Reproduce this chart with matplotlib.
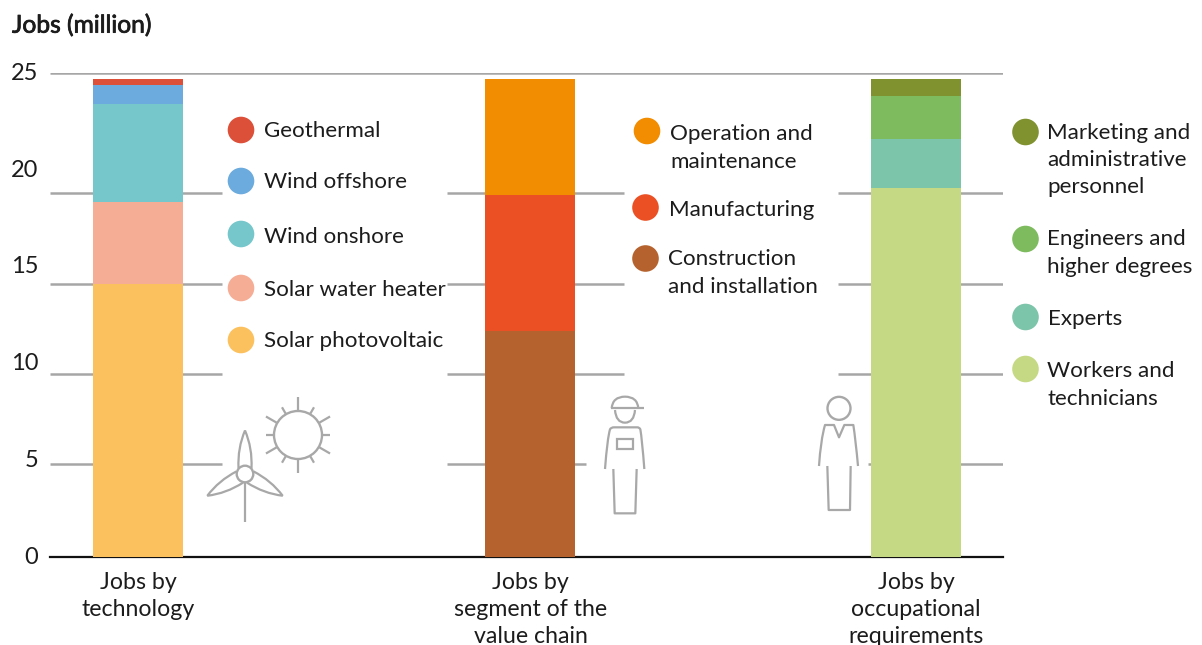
import numpy as np
import matplotlib
matplotlib.use("Agg")
import matplotlib.pyplot as plt
import matplotlib.patheffects as pe
from matplotlib.patches import Circle, PathPatch, Rectangle
from matplotlib.path import Path
from matplotlib.transforms import ScaledTranslation

plt.rcParams['font.family'] = ['Lato', 'DejaVu Sans']

# ---- data ----
group_labels = ["Jobs by\ntechnology", "Jobs by\nsegment of the\nvalue chain", "Jobs by\noccupational\nrequirements"]
tech_names = ["Solar photovoltaic", "Solar water heater", "Wind onshore", "Wind offshore", "Geothermal"]
tech_values = [14.1, 4.25, 5.05, 1.0, 0.3]
tech_colors = ["#fcc15f", "#f6ad96", "#76c7cb", "#6cabdd", "#dc5039"]
chain_names = ["Construction\nand installation", "Manufacturing", "Operation and\nmaintenance"]
chain_values = [11.65, 7.05, 6.0]
chain_colors = ["#b5622e", "#eb5025", "#f28c00"]
occ_names = ["Workers and\ntechnicians", "Experts", "Engineers and\nhigher degrees", "Marketing and\nadministrative\npersonnel"]
occ_values = [19.05, 2.55, 2.2, 0.9]
occ_colors = ["#c5d984", "#7cc4aa", "#7dbb5e", "#7f922f"]
y_ticks = [0, 5, 10, 15, 20, 25]
grid_levels = [4.76, 9.42, 14.08, 18.79]   # rules sit slightly off the labels in the source

W, H = 1202, 645
TXT = "#1c1c1c"
GREY = "#a6a6a6"
FS = 16.1

fig = plt.figure(figsize=(W / 100, H / 100), dpi=100, facecolor="white")
L, R, B, T = 50, 1003, 556.5, 73
ax = fig.add_axes([L / W, 1 - B / H, (R - L) / W, (B - T) / H])
ax.set_xlim(L, R)
ax.set_ylim(0, 25)
for s in ("top", "left", "right"):
    ax.spines[s].set_visible(False)
ax.spines["bottom"].set_linewidth(1.6)
ax.spines["bottom"].set_color("#111111")
ax.patch.set_alpha(0)

centers = [138, 530.5, 916]
bar_w = 90
for c, vals, cols in zip(centers, [tech_values, chain_values, occ_values],
                         [tech_colors, chain_colors, occ_colors]):
    bottom = 0
    for v, col in zip(vals, cols):
        ax.bar(c, v, width=bar_w, bottom=bottom, color=col, linewidth=0, zorder=3)
        bottom += v

# rules
RW = 1.8
ax.hlines(25, L, R, color=GREY, lw=RW, zorder=1)
for i, lev in enumerate(grid_levels):
    ax.hlines(lev, L, 222, color=GREY, lw=RW, zorder=1)
    ax.hlines(lev, 447, 586 if i == 0 else 624, color=GREY, lw=RW, zorder=1)
    ax.hlines(lev, 868 if i == 0 else 838, R, color=GREY, lw=RW, zorder=1)

ax.set_yticks(y_ticks)
ax.set_yticklabels([str(t) for t in y_ticks], fontsize=17, color=TXT)
ax.tick_params(axis="y", length=0, pad=8.5)
shift = ScaledTranslation(0, 1.5 / 100, fig.dpi_scale_trans)
for lab in ax.get_yticklabels():
    lab.set_transform(lab.get_transform() + shift)
ax.set_xticks(centers)
ax.set_xticklabels(group_labels, fontsize=16.7, color=TXT, linespacing=1.33)
ax.tick_params(axis="x", length=0, pad=11.5)

# pixel overlay for legends and icons
ov = fig.add_axes([0, 0, 1, 1])
ov.set_xlim(0, W)
ov.set_ylim(H, 0)
ov.axis("off")
ov.patch.set_alpha(0)

ov.text(12, 25, "Jobs (million)", fontsize=17.7, color=TXT, va="center", ha="left",
        path_effects=[pe.withStroke(linewidth=0.55, foreground=TXT)])

def entry(name, col, cx, cy, tx, ty):
    ov.add_patch(Circle((cx, cy), 13.3, fc=col, ec="none"))
    ov.text(tx, ty, name, fontsize=FS, color=TXT, va="center", ha="left", linespacing=1.44)

entry(tech_names[4], tech_colors[4], 241, 130, 264, 131)
entry(tech_names[3], tech_colors[3], 241, 181, 264, 182)
entry(tech_names[2], tech_colors[2], 241, 234, 264, 237)
entry(tech_names[1], tech_colors[1], 241, 288, 264, 290)
entry(tech_names[0], tech_colors[0], 241, 340, 264, 341)
entry(chain_names[2], chain_colors[2], 647, 131, 670, 148)
entry(chain_names[1], chain_colors[1], 645.5, 207.5, 669, 210)
entry(chain_names[0], chain_colors[0], 645.5, 258.5, 668, 273)
entry(occ_names[3], occ_colors[3], 1025.5, 132, 1047, 160)
entry(occ_names[2], occ_colors[2], 1025.5, 239, 1047, 253)
entry(occ_names[1], occ_colors[1], 1025.5, 317, 1048, 319)
entry(occ_names[0], occ_colors[0], 1025.5, 369, 1047, 385)

# ---- icons (decorative) ----
IC = dict(color="#a8a8a8", lw=1.6, solid_capstyle="butt", solid_joinstyle="round", zorder=5)

# sun
sx, sy = 298, 435
ov.add_patch(Circle((sx, sy), 24, fc="none", ec=IC["color"], lw=1.7))
for k in range(12):
    a = np.deg2rad(30 * k)
    r1 = {0: 32, 1: 37, 2: 32, 3: 38}[min(k % 6, 6 - k % 6)]
    ov.plot([sx + 24.5 * np.cos(a), sx + r1 * np.cos(a)], [sy + 24.5 * np.sin(a), sy + r1 * np.sin(a)], **IC)

# turbine
hx, hy = 245, 474
ov.add_patch(Circle((hx, hy), 8.3, fc="none", ec=IC["color"], lw=1.7))
ov.plot([hx, hx], [hy + 8.3, 522], **IC)
for ang in (0, 120, 240):
    t = np.deg2rad(ang)
    rot = np.array([[np.cos(t), -np.sin(t)], [np.sin(t), np.cos(t)]])
    local = np.array([[-6.5, -6], [-7.5, -26], [0, -43.5], [7.5, -26], [6.5, -6]])
    pts = local @ rot.T + [hx, hy]
    p = Path(pts, [Path.MOVETO, Path.CURVE3, Path.CURVE3, Path.CURVE3, Path.CURVE3])
    ov.add_patch(PathPatch(p, fc="none", ec=IC["color"], lw=1.6))

def z(x, y):
    return 590 + x / 3, 380 + y / 3

def zline(pts):
    xs, ys = zip(*[z(*p) for p in pts])
    ov.plot(xs, ys, **IC)

def zcurve(pts, codes):
    ov.add_patch(PathPatch(Path([z(*p) for p in pts], codes), fc="none", ec=IC["color"], lw=1.6,
                           capstyle="butt", joinstyle="round"))

M, C3, L2 = Path.MOVETO, Path.CURVE3, Path.LINETO
# worker
zline([(63, 85), (162, 85)])
zcurve([(65, 85), (68, 50), (105, 50), (142, 50), (145, 85)], [M, C3, C3, C3, C3])
zcurve([(75, 90), (78, 128), (105, 128), (132, 128), (135, 90)], [M, C3, C3, C3, C3])
zcurve([(45, 267), (52, 175), (60, 148), (63, 142), (72, 142), (142, 142), (148, 142), (151, 148), (156, 175), (163, 267)],
       [M, C3, C3, C3, C3, L2, C3, C3, C3, C3])
ov.add_patch(Rectangle(z(80, 176), 50 / 3, 31 / 3, fc="none", ec=IC["color"], lw=1.6))
zline([(70, 267), (74, 400), (136, 400), (140, 267)])
# professional
ov.add_patch(Circle(z(747, 85), 11.5, fc="none", ec=IC["color"], lw=1.7))
zcurve([(687, 258), (692, 180), (705, 135), (732, 135), (747, 172), (763, 135), (790, 135), (797, 180), (804, 258)],
       [M, C3, C3, L2, L2, L2, L2, C3, C3])
zline([(712, 258), (716, 390), (780, 390), (782, 258)])

fig.savefig("out.png", dpi=100, facecolor="white")
